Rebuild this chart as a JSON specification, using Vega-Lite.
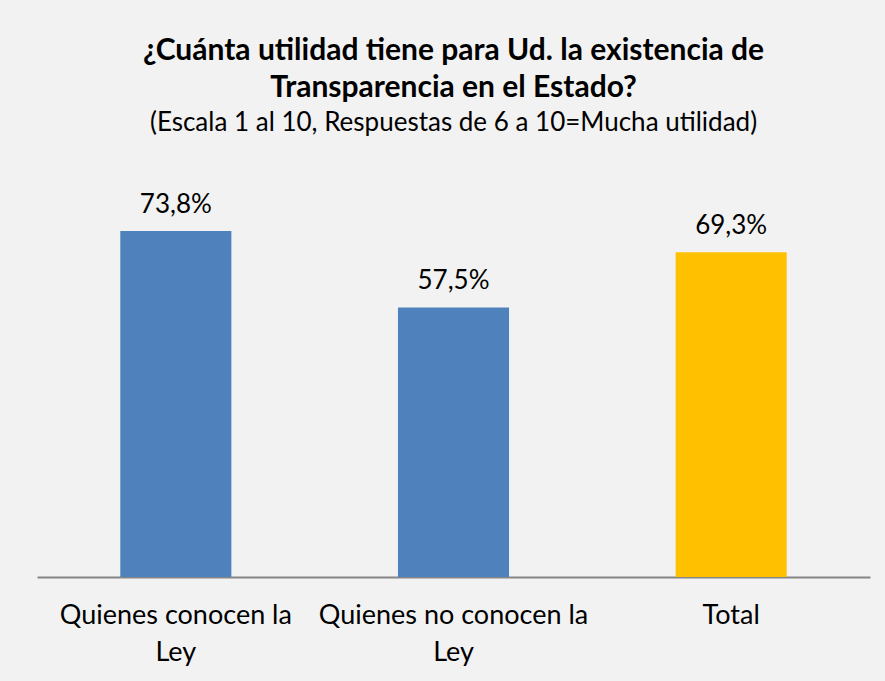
{
  "$schema": "https://vega.github.io/schema/vega-lite/v6.json",
  "width": 833,
  "height": 375,
  "autosize": {"type": "none"},
  "padding": {"left": 37, "top": 202, "right": 15, "bottom": 104},
  "background": "#f2f2f2",
  "config": {
    "view": {"stroke": null},
    "font": "Lato",
    "locale": {"number": {"decimal": ",", "thousands": ".", "grouping": [3], "currency": ["", " €"]}}
  },
  "title": {
    "text": ["¿Cuánta utilidad tiene para Ud. la existencia de", "Transparencia en el Estado?"],
    "subtitle": "(Escala 1 al 10, Respuestas de 6 a 10=Mucha utilidad)",
    "anchor": "middle",
    "fontSize": 30,
    "fontWeight": "bold",
    "lineHeight": 37,
    "color": "#000000",
    "subtitleFontSize": 26,
    "subtitleColor": "#000000",
    "subtitlePadding": 7,
    "offset": 56,
    "font": "Lato",
    "subtitleFont": "Lato"
  },
  "data": {
    "values": [
      {"grupo": "Quienes conocen la Ley", "valor": 0.738, "tipo": "grupo"},
      {"grupo": "Quienes no conocen la Ley", "valor": 0.575, "tipo": "grupo"},
      {"grupo": "Total", "valor": 0.693, "tipo": "total"}
    ]
  },
  "encoding": {
    "x": {
      "field": "grupo",
      "type": "nominal",
      "sort": null,
      "scale": {"paddingInner": 0.6, "paddingOuter": 0.3},
      "axis": {
        "title": null,
        "labelAngle": 0,
        "labelFontSize": 27,
        "labelColor": "#000000",
        "labelPadding": 25,
        "labelLineHeight": 37,
        "labelLimit": 400,
        "labelExpr": "datum.value == 'Total' ? 'Total' : [replace(datum.value, ' Ley', ''), 'Ley']",
        "ticks": false,
        "domainColor": "#868686",
        "domainWidth": 2
      }
    },
    "y": {
      "field": "valor",
      "type": "quantitative",
      "scale": {"domain": [0, 0.8]},
      "axis": null
    }
  },
  "layer": [
    {
      "mark": {"type": "bar"},
      "encoding": {
        "color": {
          "field": "tipo",
          "type": "nominal",
          "scale": {"domain": ["grupo", "total"], "range": ["#4f81bd", "#ffc000"]},
          "legend": null
        }
      }
    },
    {
      "mark": {"type": "text", "baseline": "alphabetic", "dy": -18, "fontSize": 26, "color": "#000000"},
      "encoding": {
        "text": {"field": "valor", "type": "quantitative", "format": ".1%"}
      }
    }
  ]
}
